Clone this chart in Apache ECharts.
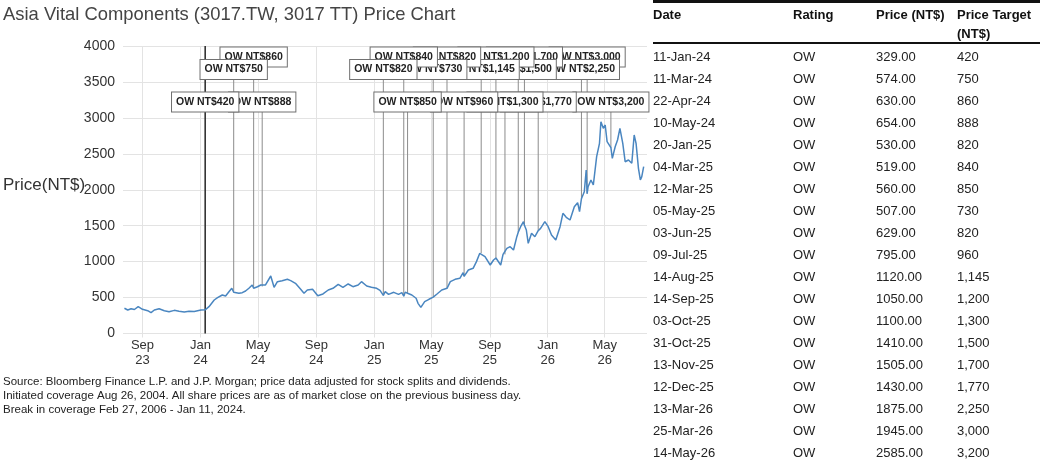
<!DOCTYPE html>
<html>
<head>
<meta charset="utf-8">
<script src="https://cdn.jsdelivr.net/npm/echarts@6/dist/echarts.min.js"></script>
<style>
  html, body { margin: 0; padding: 0; background: #fff; }
  body { width: 1042px; height: 467px; position: relative; overflow: hidden;
         font-family: "Liberation Sans", Arial, sans-serif; }
  #chart { position: absolute; left: 0; top: 0; width: 650px; height: 467px; }
  #table { position: absolute; left: 0; top: 0; width: 1042px; height: 467px; }
  .cell { position: absolute; white-space: nowrap; font-size: 13px; line-height: 16px; color: #222; }
  .head { position: absolute; white-space: nowrap; font-size: 13px; line-height: 19px; color: #111; font-weight: bold; }
  .rule { position: absolute; background: #111; }
</style>
</head>
<body>
<div id="chart"></div>
<div id="table"></div>
<script>
// 股价（NT$）
const priceDates = [
  '2023-07-25', '2023-08-01', '2023-08-08', '2023-08-15', '2023-08-23', '2023-09-01', '2023-09-12', '2023-09-19',
  '2023-09-26', '2023-10-06', '2023-10-17', '2023-10-27', '2023-11-07', '2023-11-17', '2023-11-28', '2023-12-08',
  '2023-12-19', '2024-01-02', '2024-01-11', '2024-01-19', '2024-01-30', '2024-02-06', '2024-02-16', '2024-02-23',
  '2024-03-01', '2024-03-07', '2024-03-11', '2024-03-15', '2024-03-22', '2024-03-29', '2024-04-05', '2024-04-12',
  '2024-04-19', '2024-04-22', '2024-04-24', '2024-04-30', '2024-05-07', '2024-05-10', '2024-05-17', '2024-05-28',
  '2024-06-04', '2024-06-11', '2024-06-21', '2024-07-02', '2024-07-09', '2024-07-19', '2024-07-30', '2024-08-06',
  '2024-08-13', '2024-08-24', '2024-09-04', '2024-09-15', '2024-09-26', '2024-10-06', '2024-10-17', '2024-10-27',
  '2024-11-07', '2024-11-17', '2024-11-28', '2024-12-05', '2024-12-16', '2024-12-26', '2025-01-06', '2025-01-13',
  '2025-01-20', '2025-01-24', '2025-01-31', '2025-02-11', '2025-02-21', '2025-02-28', '2025-03-04', '2025-03-07',
  '2025-03-12', '2025-03-21', '2025-03-30', '2025-04-03', '2025-04-09', '2025-04-17', '2025-04-26', '2025-05-05',
  '2025-05-13', '2025-05-23', '2025-06-03', '2025-06-10', '2025-06-20', '2025-06-30', '2025-07-07', '2025-07-09',
  '2025-07-18', '2025-07-28', '2025-08-04', '2025-08-11', '2025-08-14', '2025-08-15', '2025-08-22', '2025-09-02',
  '2025-09-09', '2025-09-14', '2025-09-24', '2025-09-29', '2025-10-03', '2025-10-07', '2025-10-14', '2025-10-21',
  '2025-10-28', '2025-10-31', '2025-11-05', '2025-11-11', '2025-11-13', '2025-11-17', '2025-11-21', '2025-11-28',
  '2025-12-05', '2025-12-12', '2025-12-17', '2025-12-26', '2026-01-02', '2026-01-09', '2026-01-18', '2026-01-27',
  '2026-02-02', '2026-02-09', '2026-02-17', '2026-02-26', '2026-03-05', '2026-03-09', '2026-03-13', '2026-03-19',
  '2026-03-23', '2026-03-25', '2026-03-27', '2026-04-02', '2026-04-07', '2026-04-14', '2026-04-20', '2026-04-23',
  '2026-04-28', '2026-05-02', '2026-05-06', '2026-05-14', '2026-05-17', '2026-05-23', '2026-05-28', '2026-06-02',
  '2026-06-08', '2026-06-13', '2026-06-20', '2026-06-27', '2026-07-02', '2026-07-06', '2026-07-11', '2026-07-15',
  '2026-07-18', '2026-07-22'
];
const priceValues = [
  351, 327, 345, 334, 373, 337, 317, 290,
  327, 345, 317, 303, 322, 310, 299, 310,
  305, 327, 329, 373, 466, 498, 536, 522,
  582, 629, 574, 596, 559, 568, 591, 629,
  675, 630, 605, 651, 675, 654, 675, 800,
  643, 721, 735, 754, 735, 698, 615, 559,
  605, 615, 526, 550, 605, 629, 684, 643,
  689, 651, 675, 721, 661, 643, 629, 600,
  530, 582, 545, 573, 545, 568, 519, 575,
  560, 536, 490, 420, 364, 443, 476, 507,
  550, 605, 629, 721, 754, 768, 846, 795,
  884, 907, 1000, 1116, 1120, 1138, 1069, 953,
  1023, 1050, 953, 1100, 1100, 1185, 1208, 1162,
  1347, 1410, 1486, 1556, 1505, 1440, 1255, 1394,
  1347, 1430, 1463, 1556, 1486, 1370, 1301, 1486,
  1672, 1617, 1579, 1764, 1820, 1695, 1875, 1973,
  2275, 1945, 2042, 2136, 2066, 2460, 2646, 2947,
  2855, 2901, 2669, 2585, 2437, 2599, 2692, 2855,
  2646, 2390, 2414, 2368, 2762, 2646, 2298, 2136,
  2182, 2321
];

// 评级记录
const ratingDates = [
  '2024-01-11', '2024-03-11', '2024-04-22', '2024-05-10', '2025-01-20', '2025-03-04', '2025-03-12',
  '2025-05-05', '2025-06-03', '2025-07-09', '2025-08-14', '2025-09-14', '2025-10-03', '2025-10-31',
  '2025-11-13', '2025-12-12', '2026-03-13', '2026-03-25', '2026-05-14'
];
const ratingCodes = ['OW', 'OW', 'OW', 'OW', 'OW', 'OW', 'OW', 'OW', 'OW', 'OW',
                     'OW', 'OW', 'OW', 'OW', 'OW', 'OW', 'OW', 'OW', 'OW'];
const ratingPrices = [329, 574, 630, 654, 530, 519, 560, 507, 629, 795,
                      1120, 1050, 1100, 1410, 1505, 1430, 1875, 1945, 2585];
const ratingTargets = [420, 750, 860, 888, 820, 840, 850, 730, 820, 960,
                       1145, 1200, 1300, 1500, 1700, 1770, 2250, 3000, 3200];

const yTicks = [0, 500, 1000, 1500, 2000, 2500, 3000, 3500, 4000];
const monthNames = ['Jan', 'Feb', 'Mar', 'Apr', 'May', 'Jun', 'Jul', 'Aug', 'Sep', 'Oct', 'Nov', 'Dec'];

// 每天一个类目
const categories = [];
for (let t = Date.UTC(2023, 6, 22); t <= Date.UTC(2026, 6, 29); t += 86400000) {
  categories.push(new Date(t).toISOString().slice(0, 10));
}
const isTick = (idx, val) => /-(01|05|09)-01$/.test(val);
const fmtNum = (v) => v.toLocaleString('en-US');
const fmtDate = (d) => d.slice(8, 10) + '-' + monthNames[+d.slice(5, 7) - 1] + '-' + d.slice(2, 4);

// 标签行：第3行、第2行、第1行循环
const rowOffsets = [56, 23.5, 11];
const gridColor = '#e3e3e3';

const myChart = echarts.init(document.getElementById('chart'));
myChart.setOption({
  animation: false,
  title: {
    text: 'Asia Vital Components (3017.TW, 3017 TT) Price Chart',
    left: 3, top: 5, padding: 0,
    textStyle: { fontSize: 18.4, fontWeight: 'normal', color: '#444', lineHeight: 20,
                 fontFamily: 'Liberation Sans' }
  },
  grid: { left: 123, right: 3, top: 46, bottom: 133.5 },
  xAxis: {
    type: 'category',
    data: categories,
    boundaryGap: false,
    axisLine: { show: false },
    axisTick: { show: true, interval: isTick, length: 4, lineStyle: { color: gridColor } },
    axisLabel: {
      interval: isTick, margin: 5, fontSize: 13, lineHeight: 14.5, color: '#333',
      fontFamily: 'Liberation Sans',
      formatter: (val) => monthNames[+val.slice(5, 7) - 1] + '\n' + val.slice(2, 4)
    },
    splitLine: { show: true, interval: isTick, lineStyle: { color: gridColor, width: 1 } }
  },
  yAxis: {
    type: 'value',
    min: yTicks[0], max: yTicks[yTicks.length - 1], interval: yTicks[1] - yTicks[0],
    axisLine: { show: false },
    axisTick: { show: false },
    axisLabel: { fontSize: 14, color: '#333', margin: 8, fontFamily: 'Liberation Sans',
                 formatter: (v) => String(v) },
    splitLine: { lineStyle: { color: gridColor, width: 1 } }
  },
  graphic: [
    {
      type: 'text', left: 3, top: 177,
      style: { text: 'Price(NT$)', font: '17px "Liberation Sans", Arial', fill: '#333' }
    },
    {
      type: 'text', left: 3, top: 375,
      style: {
        text: 'Source: Bloomberg Finance L.P. and J.P. Morgan; price data adjusted for stock splits and dividends.\n' +
              'Initiated coverage Aug 26, 2004. All share prices are as of market close on the previous business day.\n' +
              'Break in coverage Feb 27, 2006 - Jan 11, 2024.',
        font: '11.5px "Liberation Sans", Arial', lineHeight: 13.8, fill: '#222'
      }
    }
  ],
  series: [
    {
      type: 'line',
      data: priceDates.map((d, i) => [d, priceValues[i]]),
      showSymbol: false,
      z: 3,
      lineStyle: { color: '#4a86c0', width: 1.5 },
      itemStyle: { color: '#4a86c0' }
    },
    {
      type: 'custom',
      z: 2,
      data: ratingDates.map((d, i) => [d, ratingPrices[i], ratingTargets[i]]),
      encode: { x: 0, y: 1 },
      renderItem: (params, api) => {
        const i = params.dataIndex;
        const cs = params.coordSys;
        const pt = api.coord([api.value(0), api.value(1)]);
        const labelY = cs.y + rowOffsets[i % 3];
        const first = i === 0;
        return {
          type: 'group',
          children: [
            {
              type: 'line', z2: 0,
              shape: { x1: pt[0], y1: first ? cs.y : labelY, x2: pt[0], y2: first ? cs.y + cs.height : pt[1] },
              style: { stroke: first ? '#333' : '#8c8c8c', lineWidth: first ? 1.6 : 1 }
            },
            {
              type: 'text', z2: 100 - i, x: pt[0], y: labelY,
              style: {
                text: ratingCodes[i] + ' NT$' + fmtNum(api.value(2)),
                align: 'center', verticalAlign: 'middle',
                font: 'bold 10.5px "Liberation Sans", Arial', fill: '#222',
                backgroundColor: '#fff', borderColor: '#707070', borderWidth: 1,
                padding: [4, 4, 4, 4]
              }
            }
          ]
        };
      }
    }
  ]
});

// 右侧表格
const table = document.getElementById('table');
const cols = [653, 793, 876, 957];
const add = (cls, x, y, html) => {
  const el = document.createElement('div');
  el.className = cls;
  el.style.left = x + 'px';
  el.style.top = y + 'px';
  el.innerHTML = html;
  table.appendChild(el);
};
const rule = (y, h) => {
  const el = document.createElement('div');
  el.className = 'rule';
  el.style.left = '653px';
  el.style.width = '387px';
  el.style.top = y + 'px';
  el.style.height = h + 'px';
  table.appendChild(el);
};
rule(0, 3);
rule(42, 2);
['Date', 'Rating', 'Price (NT$)', 'Price Target<br>(NT$)'].forEach((h, c) => add('head', cols[c], 4.5, h));
ratingDates.forEach((d, i) => {
  const y = 56.7 + i * 22 - 8;
  add('cell', cols[0], y, fmtDate(d));
  add('cell', cols[1], y, ratingCodes[i]);
  add('cell', cols[2], y, ratingPrices[i].toFixed(2));
  add('cell', cols[3], y, fmtNum(ratingTargets[i]));
});
</script>
</body>
</html>
